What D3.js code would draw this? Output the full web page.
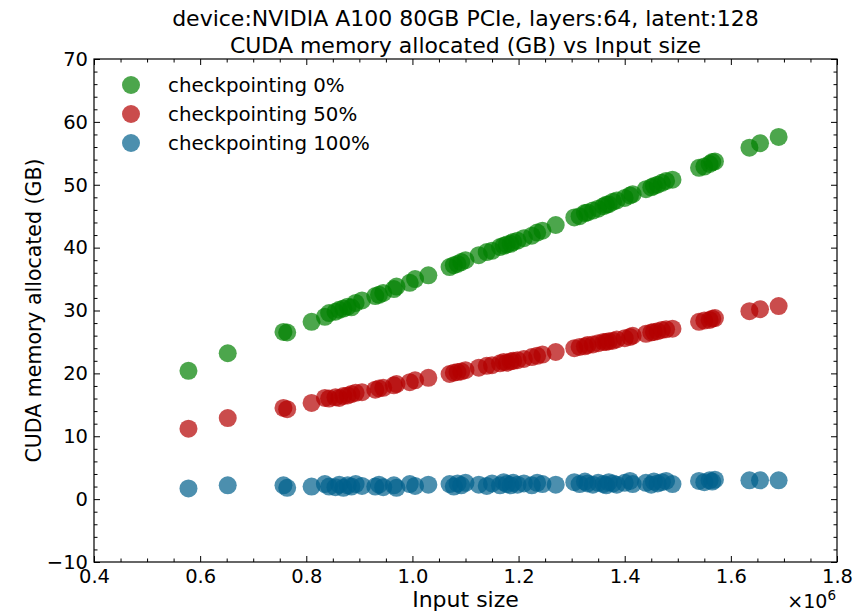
<!DOCTYPE html>
<html>
<head>
<meta charset="utf-8">
<script src="https://cdn.jsdelivr.net/npm/d3@7"></script>
<style>
  html, body { margin: 0; padding: 0; background: #fff; }
  svg { display: block; font-family: "DejaVu Sans", sans-serif; }
</style>
</head>
<body>
<svg id="chart" width="857" height="614"></svg>
<script>
// Input sizes (in units of 1e6)
const inputSize = [
  0.578, 0.652, 0.757, 0.764, 0.810, 0.835, 0.843, 0.855, 0.862, 0.870,
  0.878, 0.885, 0.893, 0.905, 0.930, 0.937, 0.945, 0.965, 0.970, 0.995,
  1.005, 1.030, 1.070, 1.078, 1.085, 1.092, 1.100, 1.125, 1.140, 1.150,
  1.165, 1.172, 1.178, 1.185, 1.190, 1.198, 1.210, 1.225, 1.235, 1.245,
  1.270, 1.305, 1.315, 1.325, 1.330, 1.340, 1.350, 1.360, 1.365, 1.370,
  1.378, 1.385, 1.400, 1.410, 1.415, 1.440, 1.450, 1.455, 1.462, 1.470,
  1.478, 1.490, 1.540, 1.550, 1.560, 1.565, 1.570, 1.635, 1.655, 1.690
];
// CUDA memory allocated (GB), checkpointing 0%
const memCkpt0 = [
  20.4, 23.2, 26.6, 26.5, 28.2, 29.0, 29.6, 29.8, 30.1, 30.3,
  30.6, 30.5, 31.2, 31.6, 32.3, 32.5, 32.8, 33.4, 33.8, 34.4,
  35.0, 35.6, 36.9, 37.2, 37.4, 37.7, 38.0, 38.8, 39.3, 39.5,
  40.1, 40.3, 40.5, 40.6, 40.9, 41.1, 41.5, 41.9, 42.4, 42.7,
  43.6, 44.8, 45.0, 45.5, 45.6, 45.9, 46.2, 46.6, 46.8, 46.9,
  47.3, 47.5, 47.9, 48.3, 48.5, 49.3, 49.6, 49.8, 50.0, 50.3,
  50.6, 50.8, 52.7, 52.9, 53.3, 53.6, 53.7, 55.9, 56.6, 57.6
];
// checkpointing 50%
const memCkpt50 = [
  11.2, 12.9, 14.5, 14.3, 15.3, 16.1, 16.0, 16.2, 16.1, 16.4,
  16.5, 16.7, 16.9, 17.0, 17.4, 17.6, 17.7, 18.1, 18.3, 18.6,
  18.9, 19.3, 19.9, 20.1, 20.2, 20.3, 20.5, 20.9, 21.2, 21.3,
  21.6, 21.8, 21.7, 21.9, 22.0, 22.1, 22.3, 22.6, 22.8, 23.0,
  23.4, 24.0, 24.2, 24.3, 24.5, 24.6, 24.8, 25.0, 25.0, 25.1,
  25.2, 25.4, 25.6, 25.8, 26.0, 26.3, 26.5, 26.6, 26.7, 26.9,
  27.0, 27.1, 28.2, 28.4, 28.5, 28.7, 28.8, 29.9, 30.2, 30.7
];
// checkpointing 100%
const memCkpt100 = [
  1.7, 2.2, 2.2, 1.8, 2.0, 2.4, 2.0, 1.9, 2.3, 1.8,
  2.2, 2.0, 2.4, 2.1, 2.0, 2.3, 1.9, 2.2, 1.8, 2.4,
  2.1, 2.3, 2.4, 2.0, 2.5, 2.2, 2.6, 2.3, 2.1, 2.5,
  2.2, 2.7, 2.4, 2.2, 2.6, 2.3, 2.5, 2.2, 2.6, 2.4,
  2.3, 2.7, 2.4, 2.8, 2.5, 2.3, 2.6, 2.4, 2.2, 2.7,
  2.5, 2.3, 2.6, 2.9, 2.4, 2.6, 2.3, 2.8, 2.5, 2.7,
  2.9, 2.4, 2.9, 2.7, 3.0, 2.8, 3.1, 3.0, 3.0, 3.0
];

const seriesNames = ["checkpointing 0%", "checkpointing 50%", "checkpointing 100%"];
const seriesColors = ["#008000", "#b30000", "#00608c"];
const seriesValues = [memCkpt0, memCkpt50, memCkpt100];

const xMajorTicks = [0.4, 0.6, 0.8, 1.0, 1.2, 1.4, 1.6, 1.8];
const yMajorTicks = [-10, 0, 10, 20, 30, 40, 50, 60, 70];

const titleLines = ["device:NVIDIA A100 80GB PCIe, layers:64, latent:128",
                    "CUDA memory allocated (GB) vs Input size"];
const xLabel = "Input size";
const yLabel = "CUDA memory allocated (GB)";

const svg = d3.select("#chart");
const plotLeft = 94, plotRight = 837, plotTop = 59, plotBottom = 562;

const x = d3.scaleLinear().domain([0.4, 1.8]).range([plotLeft, plotRight]);
const y = d3.scaleLinear().domain([-10, 70]).range([plotBottom, plotTop]);

const xMinor = d3.range(0.4, 1.8001, 0.05).filter(v => !xMajorTicks.some(t => Math.abs(t - v) < 1e-6));
const yMinor = d3.range(-10, 70.001, 2).filter(v => v % 10 !== 0);

const fmtX = d3.format(".1f");
const tickFont = 19.5;

// Axes: ticks pointing inward on all four sides
function styleAxis(g) {
  g.select(".domain").remove();
  g.selectAll("line").attr("stroke", "#000").attr("stroke-width", 1);
  g.selectAll("text").attr("font-size", tickFont).attr("fill", "#000")
    .attr("font-family", "DejaVu Sans, sans-serif");
}

// bottom
svg.append("g").attr("transform", `translate(0,${plotBottom})`)
  .call(d3.axisBottom(x).tickValues(xMajorTicks).tickFormat(fmtX).tickSizeInner(-6).tickSizeOuter(0).tickPadding(7))
  .call(styleAxis);
svg.append("g").attr("transform", `translate(0,${plotBottom})`)
  .call(d3.axisBottom(x).tickValues(xMinor).tickFormat("").tickSizeInner(-3.5).tickSizeOuter(0))
  .call(styleAxis);
// top
svg.append("g").attr("transform", `translate(0,${plotTop})`)
  .call(d3.axisTop(x).tickValues(xMajorTicks).tickFormat("").tickSizeInner(-6).tickSizeOuter(0))
  .call(styleAxis);
svg.append("g").attr("transform", `translate(0,${plotTop})`)
  .call(d3.axisTop(x).tickValues(xMinor).tickFormat("").tickSizeInner(-3.5).tickSizeOuter(0))
  .call(styleAxis);
// left
svg.append("g").attr("transform", `translate(${plotLeft},0)`)
  .call(d3.axisLeft(y).tickValues(yMajorTicks).tickFormat(d => d < 0 ? "\u2212" + Math.abs(d) : d).tickSizeInner(-6).tickSizeOuter(0).tickPadding(6))
  .call(styleAxis);
svg.append("g").attr("transform", `translate(${plotLeft},0)`)
  .call(d3.axisLeft(y).tickValues(yMinor).tickFormat("").tickSizeInner(-3.5).tickSizeOuter(0))
  .call(styleAxis);
// right
svg.append("g").attr("transform", `translate(${plotRight},0)`)
  .call(d3.axisRight(y).tickValues(yMajorTicks).tickFormat("").tickSizeInner(-6).tickSizeOuter(0))
  .call(styleAxis);
svg.append("g").attr("transform", `translate(${plotRight},0)`)
  .call(d3.axisRight(y).tickValues(yMinor).tickFormat("").tickSizeInner(-3.5).tickSizeOuter(0))
  .call(styleAxis);

// frame
svg.append("rect")
  .attr("x", plotLeft).attr("y", plotTop)
  .attr("width", plotRight - plotLeft).attr("height", plotBottom - plotTop)
  .attr("fill", "none").attr("stroke", "#000").attr("stroke-width", 1.2);

// scatter points
seriesValues.forEach((vals, i) => {
  svg.append("g").selectAll("circle")
    .data(inputSize.map((d, j) => [d, vals[j]]))
    .join("circle")
    .attr("cx", d => x(d[0]))
    .attr("cy", d => y(d[1]))
    .attr("r", 9)
    .attr("fill", seriesColors[i])
    .attr("fill-opacity", 0.7);
});

// legend
const legend = svg.append("g");
seriesNames.forEach((name, i) => {
  const ly = 85 + i * 29;
  legend.append("circle").attr("cx", 131).attr("cy", ly).attr("r", 9)
    .attr("fill", seriesColors[i]).attr("fill-opacity", 0.7);
  legend.append("text").attr("x", 168).attr("y", ly).attr("dy", "0.35em")
    .attr("font-size", 19.8).attr("fill", "#000").text(name);
});

// title
titleLines.forEach((t, i) => {
  svg.append("text").attr("x", (plotLeft + plotRight) / 2).attr("y", 26 + i * 26.5)
    .attr("text-anchor", "middle").attr("font-size", 22).attr("fill", "#000").text(t);
});

// axis labels
svg.append("text").attr("x", (plotLeft + plotRight) / 2).attr("y", 607)
  .attr("text-anchor", "middle").attr("font-size", 22).attr("fill", "#000").text(xLabel);
svg.append("text")
  .attr("transform", `translate(41,${(plotTop + plotBottom) / 2}) rotate(-90)`)
  .attr("text-anchor", "middle").attr("font-size", 20.5).attr("fill", "#000").text(yLabel);

// offset multiplier
const mult = svg.append("text").attr("x", 836).attr("y", 608).attr("text-anchor", "end")
  .attr("font-size", 19).attr("fill", "#000");
mult.append("tspan").text("\u00d710");
mult.append("tspan").attr("font-size", 13.5).attr("dy", -8).text("6");
</script>
</body>
</html>
